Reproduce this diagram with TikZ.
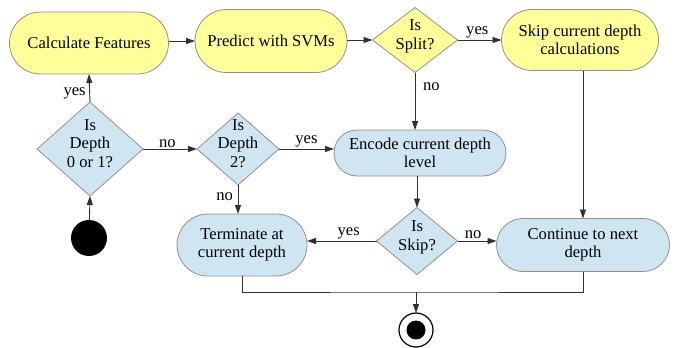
\documentclass[tikz,border=0pt]{standalone}
\usepackage{fontspec}
\setmainfont{Liberation Serif}
\newfontfamily\tnr{Liberation Serif}
\usetikzlibrary{shapes.geometric,arrows.meta}
\definecolor{yfill}{HTML}{FFFF99}
\definecolor{bfill}{HTML}{CFE5F2}
\definecolor{bord}{HTML}{909090}
\definecolor{edge}{HTML}{303030}
\newcommand{\zt}[1]{\raisebox{-1pt}{\makebox[0pt]{\smash{\begin{tabular}{@{}c@{}}#1\end{tabular}}}}}
\begin{document}
\begin{tikzpicture}[x=1pt,y=-1pt,
  every node/.style={inner sep=0pt, outer sep=0pt, font=\tnr\fontsize{16.6}{18.5}\selectfont},
  pill/.style={draw=bord, line width=0.8pt, rectangle, align=center},
  dia/.style={draw=bord, line width=0.8pt, diamond},
  yl/.style={fill=yfill},
  bl/.style={fill=bfill},
  arr/.style={draw=edge, line width=0.9pt, -{Triangle[length=9pt,width=6pt]}},
  ln/.style={draw=edge, line width=0.9pt},
  lab/.style={font=\tnr\fontsize{16.6}{18.5}\selectfont}]
\useasboundingbox (0,0) rectangle (678,348);
% nodes
\node[pill,yl,minimum width=159pt,minimum height=62pt,rounded corners=31pt] (calc) at (89,43) {Calculate Features};
\node[pill,yl,minimum width=152pt,minimum height=63pt,rounded corners=31.5pt] (pred) at (271,41) {Predict with SVMs};
\node[dia,yl,minimum width=85pt,minimum height=65pt] (split) at (415,40) {\zt{Is\\Split?}};
\node[pill,yl,minimum width=157pt,minimum height=61pt,rounded corners=30.5pt] (skipc) at (580,40) {Skip current depth\\calculations};
\node[dia,bl,minimum width=106pt,minimum height=94pt] (d01) at (90,149) {\zt{Is\\Depth\\0 or 1?}};
\node[dia,bl,minimum width=82pt,minimum height=72pt] (d2) at (238,149) {\zt{Is\\Depth\\2?}};
\node[pill,bl,minimum width=172pt,minimum height=46pt,rounded corners=23pt] (enc) at (420,153) {Encode current depth\\level};
\node[dia,bl,minimum width=81pt,minimum height=67pt] (skipd) at (417,241) {\zt{Is\\Skip?}};
\node[pill,bl,minimum width=130pt,minimum height=62pt,rounded corners=31pt] (term) at (242,245) {Terminate at\\current depth};
\node[pill,bl,minimum width=173pt,minimum height=53pt,rounded corners=26.5pt] (cont) at (583,245) {Continue to next\\depth};
\node[circle,fill=black,minimum size=36pt] (start) at (89,238) {};
\node[circle,draw=black,line width=1.2pt,fill=white,minimum size=34pt] (end) at (416,330) {};
\node[circle,fill=black,minimum size=19pt] (endin) at (end) {};
\coordinate (m) at (416,292);
% edges
\draw[arr] (start) -- (d01.south);
\draw[arr] (d01.north) -- node[lab,left=4pt,pos=0.3] (l1) {yes} (calc.south);
\draw[arr] (calc.east |- pred.west) -- (pred.west);
\draw[arr] (pred.east |- split.west) -- (split.west);
\draw[arr] (split.east) -- node[lab,above=2pt,pos=0.45] (l2) {yes} (skipc.west |- split.east);
\draw[arr] (split.south) -- node[lab,right=8pt,pos=0.25] (l3) {no} (split.south |- enc.north);
\draw[arr] (cont.north |- skipc.south) -- (cont.north);
\draw[arr] (d01.east) -- node[lab,above=1pt,pos=0.45] (l4) {no} (d2.west);
\draw[arr] (d2.east) -- node[lab,above=2pt,pos=0.5] (l5) {yes} (d2.east -| enc.west);
\draw[arr] (d2.south) -- node[lab,left=5pt,pos=0.4] (l6) {no} (d2.south |- term.north);
\draw[arr] (enc.south -| skipd.north) -- (skipd.north);
\draw[arr] (skipd.west) -- node[lab,above=2pt,pos=0.4] (l7) {yes} (skipd.west -| term.east);
\draw[arr] (skipd.east) -- node[lab,above=2pt,pos=0.4] (l8) {no} (skipd.east -| cont.west);
\draw[ln] (term.south) |- (m) -| (cont.south);
\draw[arr] (m) -- (end.north);
\end{tikzpicture}
\end{document}
